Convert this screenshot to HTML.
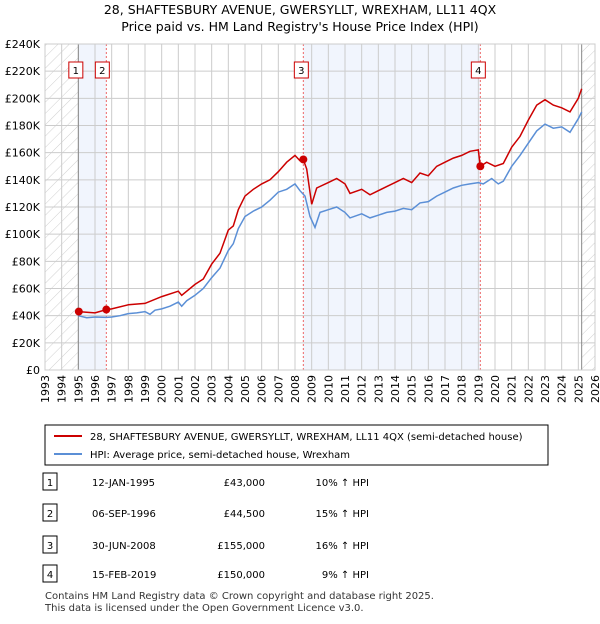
<!DOCTYPE html>
<html><head><meta charset="utf-8"><style>
body{margin:0;background:#fff;font-family:"DejaVu Sans","Liberation Sans",sans-serif;}
</style></head><body>
<svg width="600" height="620" xmlns="http://www.w3.org/2000/svg" font-family="DejaVu Sans, Liberation Sans, sans-serif">
<defs><pattern id="h" width="8" height="8" patternUnits="userSpaceOnUse" patternTransform="rotate(45)"><line x1="0" y1="0" x2="0" y2="8" stroke="#bbb" stroke-width="0.7"/></pattern></defs>
<text x="300" y="14" font-size="12.5" text-anchor="middle">28, SHAFTESBURY AVENUE, GWERSYLLT, WREXHAM, LL11 4QX</text>
<text x="300" y="31" font-size="12.5" text-anchor="middle">Price paid vs. HM Land Registry's House Price Index (HPI)</text>
<g id="plot"></g>
<rect x="45" y="44" width="550" height="326" fill="none" stroke="#ccc"/>
<g>
<rect x="45" y="425" width="503" height="40" fill="#fff" stroke="#000"/>
<line x1="54" y1="436" x2="82" y2="436" stroke="#cc0000" stroke-width="2"/>
<text x="90" y="440" font-size="10">28, SHAFTESBURY AVENUE, GWERSYLLT, WREXHAM, LL11 4QX (semi-detached house)</text>
<line x1="54" y1="454" x2="82" y2="454" stroke="#5b8fd6" stroke-width="2"/>
<text x="90" y="458" font-size="10">HPI: Average price, semi-detached house, Wrexham</text>
</g>
<g id="table" font-size="10"></g>
<text x="45" y="599" font-size="10" fill="#333">Contains HM Land Registry data © Crown copyright and database right 2025.</text>
<text x="45" y="611" font-size="10" fill="#333">This data is licensed under the Open Government Licence v3.0.</text>
</svg>
<script>
const hpiYears=[1995,1995.5,1996,1996.7,1997,1997.5,1998,1998.5,1999,1999.3,1999.6,2000,2000.5,2001,2001.2,2001.5,2002,2002.5,2003,2003.5,2004,2004.3,2004.6,2005,2005.5,2006,2006.5,2007,2007.5,2008,2008.3,2008.6,2008.9,2009.2,2009.5,2010,2010.5,2011,2011.3,2012,2012.5,2013,2013.5,2014,2014.5,2015,2015.5,2016,2016.5,2017,2017.5,2018,2018.5,2019,2019.3,2019.8,2020.2,2020.5,2021,2021.5,2022,2022.5,2023,2023.5,2024,2024.5,2025,2025.2];
const hpiValues=[40,38.5,39,38.7,39,40,41.5,42,43,41,44,45,47,50,47,51,55,60,68,75,88,93,104,113,117,120,125,131,133,137,132,128,113,105,116,118,120,116,112,115,112,114,116,117,119,118,123,124,128,131,134,136,137,138,137,141,137,139,150,158,167,176,181,178,179,175,185,190];
const priceYears=[1995,1996,1996.68,1997,1998,1999,2000,2001,2001.2,2002,2002.5,2003,2003.5,2004,2004.3,2004.6,2005,2005.5,2006,2006.5,2007,2007.5,2008,2008.3,2008.5,2008.7,2009,2009.3,2010,2010.5,2011,2011.3,2012,2012.5,2013,2013.5,2014,2014.5,2015,2015.5,2016,2016.5,2017,2017.5,2018,2018.5,2019,2019.12,2019.5,2020,2020.5,2021,2021.5,2022,2022.5,2023,2023.5,2024,2024.5,2025,2025.2];
const priceValues=[43,42,44.5,45,48,49,54,58,55,63,67,78,86,103,106,118,128,133,137,140,146,153,158,154,155,148,122,134,138,141,137,130,133,129,132,135,138,141,138,145,143,150,153,156,158,161,162,150,153,150,152,164,172,184,195,199,195,193,190,200,207];
const saleLabels=["1","2","3","4"];
const saleYears=[1995.03,1996.68,2008.5,2019.12];
const saleValues=[43,44.5,155,150];
const saleDates=["12-JAN-1995","06-SEP-1996","30-JUN-2008","15-FEB-2019"];
const salePrices=["£43,000","£44,500","£155,000","£150,000"];
const saleHpi=["10% ↑ HPI","15% ↑ HPI","16% ↑ HPI","9% ↑ HPI"];
const yTicks=[0,20,40,60,80,100,120,140,160,180,200,220,240];
const NS="http://www.w3.org/2000/svg";
const X=y=>45+(y-1993)*550/33, Y=v=>370-v*326/240;
const g=document.getElementById('plot');
function mk(t,a,p){const e=document.createElementNS(NS,t);for(const k in a)e.setAttribute(k,a[k]);(p||g).appendChild(e);return e;}
let e;
e=mk('rect',{x:X(1993),y:44,width:X(1995)-X(1993),height:326,fill:'url(#h)'});


e=mk('rect',{x:X(2025.2),y:44,width:595-X(2025.2),height:326,fill:'url(#h)'});


[[0,1],[2,3]].forEach(([a,b])=>{e=mk('rect',{x:X(saleYears[a]),y:44,width:X(saleYears[b])-X(saleYears[a]),height:326,fill:'#eef3fc',opacity:0.8});

});
for(let yr=1993;yr<=2026;yr++){e=mk('line',{x1:X(yr),x2:X(yr),y1:44,y2:370,stroke:'#ccc'});


e=mk('text',{x:0,y:0,'font-size':11,'text-anchor':'end',transform:`translate(${X(yr)+4},375) rotate(-90)`});e.textContent=yr;

}
yTicks.forEach(v=>{e=mk('line',{x1:45,x2:595,y1:Y(v),y2:Y(v),stroke:'#ccc'});


e=mk('text',{x:40,y:Y(v)+4,'font-size':11,'text-anchor':'end'});e.textContent=v===0?'£0':'£'+v+'K';

});
e=mk('line',{x1:X(1995),x2:X(1995),y1:44,y2:370,stroke:'#888'});


e=mk('line',{x1:X(2025.2),x2:X(2025.2),y1:44,y2:370,stroke:'#888'});


saleYears.forEach((s,i)=>{if(i>0){e=mk('line',{x1:X(s),x2:X(s),y1:44,y2:370,stroke:'#e66','stroke-dasharray':'2,2'});

}
const bx=X(s)-[8,-0,8,-0][i]-(i%2?0:0);
const cx=i===0?X(s)-3:(i===1?X(s)-4:X(s)-2);
e=mk('rect',{x:cx-7,y:62,width:14,height:16,fill:'#fff',stroke:'#cc0000'});


e=mk('text',{x:cx,y:74,'font-size':10,'text-anchor':'middle'});e.textContent=saleLabels[i];

});
function path(xs,vs){return xs.map((x,i)=>(i?'L':'M')+X(x).toFixed(1)+','+Y(vs[i]).toFixed(1)).join('');}
e=mk('path',{d:path(hpiYears,hpiValues),fill:'none',stroke:'#5b8fd6','stroke-width':1.5});


e=mk('path',{d:path(priceYears,priceValues),fill:'none',stroke:'#cc0000','stroke-width':1.5});


saleYears.forEach((s,i)=>{e=mk('circle',{cx:X(s),cy:Y(saleValues[i]),r:4,fill:'#cc0000'});

});
const t=document.getElementById('table');
const rowY=[483,514,546,575];
saleLabels.forEach((l,i)=>{const y=rowY[i];
e=mk('rect',{x:43,y:y-10,width:14,height:17,fill:'#fff',stroke:'#000'},t);


e=mk('text',{x:50,y:y+3,'text-anchor':'middle'},t);e.textContent=l;


e=mk('text',{x:92,y:y+3},t);e.textContent=saleDates[i];


e=mk('text',{x:265,y:y+3,'text-anchor':'end'},t);e.textContent=salePrices[i];


e=mk('text',{x:369,y:y+3,'text-anchor':'end'},t);e.textContent=saleHpi[i];

});
</script>
</body></html>
